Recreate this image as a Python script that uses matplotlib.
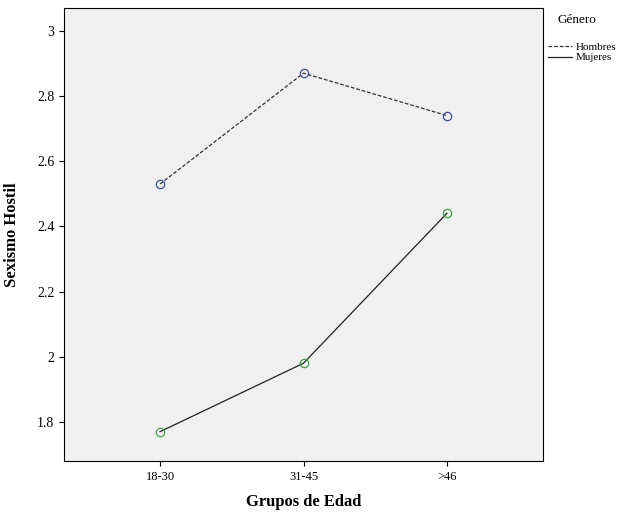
import matplotlib
matplotlib.use("Agg")
import matplotlib.pyplot as plt
from matplotlib.lines import Line2D

plt.rcParams['font.family'] = ['Liberation Serif', 'DejaVu Serif']

categories = ["18-30", "31-45", ">46"]
hombres = [2.53, 2.87, 2.74]
mujeres = [1.77, 1.98, 2.44]
yticks = [1.8, 2, 2.2, 2.4, 2.6, 2.8, 3]
ytick_labels = ["1.8", "2", "2.2", "2.4", "2.6", "2.8", "3"]

fig = plt.figure(figsize=(6.25, 5.15), dpi=100)
ax = fig.add_axes([64/625, 1-461/515, (543-64)/625, (461-8)/515])
ax.set_facecolor('#f0f0f0')
x = list(range(len(categories)))
ax.plot(x, hombres, color='#333333', lw=0.9, ls=(0, (3, 1.5)))
ax.plot(x, hombres, ls='none', marker='o', mfc='none', mec='#3b4fa0', ms=6, mew=0.9)
ax.plot(x, mujeres, color='#222222', lw=0.9)
ax.plot(x, mujeres, ls='none', marker='o', mfc='none', mec='#3aa545', ms=6, mew=0.9)
ax.set_xlim(-0.67, 2.67)
ax.set_ylim(1.68, 3.07)
ax.set_xticks(x)
ax.set_xticklabels(categories, fontsize=9)
ax.set_yticks(yticks)
ax.set_yticklabels(ytick_labels, fontsize=10)
ax.set_xlabel("Grupos de Edad", fontsize=12, fontweight='bold', labelpad=8)
ax.set_ylabel("Sexismo Hostil", fontsize=12, fontweight='bold', labelpad=12)

fig.text(557/625, 1-20/515, "Género", fontsize=9.5, va='center')
handles = [Line2D([], [], color='#333333', lw=0.9, ls=(0, (3, 1.5))),
           Line2D([], [], color='#222222', lw=0.9)]
fig.legend(handles, ["Hombres", "Mujeres"], loc='upper left',
           bbox_to_anchor=(540/625, 1-34/515), frameon=False, fontsize=8,
           handlelength=2.2, handletextpad=0.3, labelspacing=0.1, borderpad=0.2)
fig.savefig("out.png", dpi=100)
